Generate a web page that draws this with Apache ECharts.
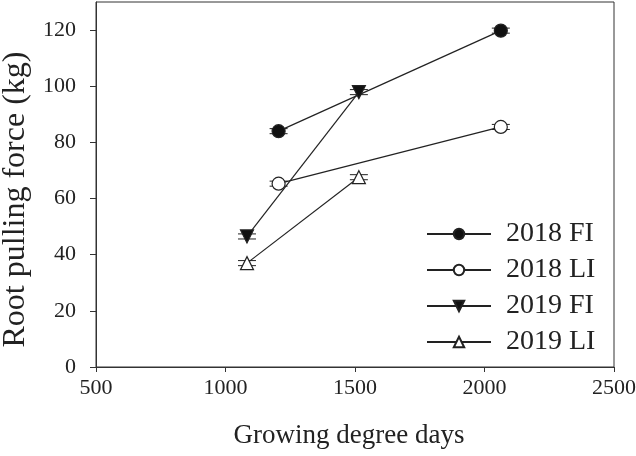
<!DOCTYPE html>
<html><head><meta charset="utf-8">
<script src="https://cdn.jsdelivr.net/npm/echarts@6/dist/echarts.min.js"></script>
<style>html,body{margin:0;padding:0;background:#fff}#c{width:636px;height:456px}</style>
</head><body><div id="c"></div>
<script>
var seriesNames = ['2018 FI', '2018 LI', '2019 FI', '2019 LI'];
var gdd2018FI = [1205, 2063];
var force2018FI = [84, 119.8];
var err2018FI = [0.9, 0.9];
var gdd2018LI = [1205, 2063];
var force2018LI = [65.3, 85.5];
var err2018LI = [0.9, 0.9];
var gdd2019FI = [1083, 1515];
var force2019FI = [46.5, 97.9];
var err2019FI = [0.9, 0.9];
var gdd2019LI = [1083, 1515];
var force2019LI = [37, 67.6];
var err2019LI = [0.9, 0.9];
var xTicks = [500, 1000, 1500, 2000, 2500];
var yTicks = [0, 20, 40, 60, 80, 100, 120];

var gddAll = [gdd2018FI, gdd2018LI, gdd2019FI, gdd2019LI];
var forceAll = [force2018FI, force2018LI, force2019FI, force2019LI];
var errAll = [err2018FI, err2018LI, err2019FI, err2019LI];
var symbols = ['circle', 'circle', 'triangle', 'triangle'];
var fills = ['#111', '#fff', '#111', '#fff'];
var rotates = [0, 0, 180, 0];
var ink = '#222';
var font = '"Liberation Serif", "Times New Roman", serif';

var series = [];
seriesNames.forEach(function (name, i) {
  var pts = gddAll[i].map(function (g, j) { return [g, forceAll[i][j]]; });
  var ebData = gddAll[i].map(function (g, j) { return [g, forceAll[i][j], errAll[i][j]]; });
  series.push({
    type: 'custom', name: name + ' err', z: 1, silent: true,
    data: ebData,
    renderItem: function (params, api) {
      var x = api.value(0), y = api.value(1), e = api.value(2);
      var lo = api.coord([x, y - e]), hi = api.coord([x, y + e]);
      var hw = 9;
      var st = { stroke: ink, lineWidth: 1 };
      return { type: 'group', children: [
        { type: 'line', shape: { x1: lo[0], y1: lo[1], x2: hi[0], y2: hi[1] }, style: st },
        { type: 'line', shape: { x1: lo[0] - hw, y1: lo[1], x2: lo[0] + hw, y2: lo[1] }, style: st },
        { type: 'line', shape: { x1: hi[0] - hw, y1: hi[1], x2: hi[0] + hw, y2: hi[1] }, style: st }
      ]};
    }
  });
  series.push({
    type: 'line', name: name, z: 3, data: pts,
    symbol: symbols[i], symbolSize: 13, symbolRotate: rotates[i],
    showAllSymbol: true,
    lineStyle: { color: ink, width: 1.2 },
    itemStyle: { color: fills[i], borderColor: ink, borderWidth: 1.2 },
    emphasis: { disabled: true },
    animation: false
  });
});

var chart = echarts.init(document.getElementById('c'));
chart.setOption({
  animation: false,
  backgroundColor: '#fff',
  grid: { left: 96, right: 22, top: 2, bottom: 89, outerBoundsMode: 'none', containLabel: false, show: true, borderColor: '#333', borderWidth: 1, backgroundColor: 'transparent' },
  legend: {
    data: seriesNames,
    orient: 'vertical',
    left: 421, top: 215,
    itemWidth: 64, itemHeight: 13, itemGap: 8,
    textStyle: { fontFamily: font, fontSize: 28, lineHeight: 28, color: '#222', padding: [0, 0, 0, 10] },
    inactiveColor: '#222'
  },
  xAxis: {
    type: 'value', min: 500, max: 2500, interval: 500,
    name: 'Growing degree days', nameLocation: 'middle', nameGap: 55,
    nameTextStyle: { fontFamily: font, fontSize: 27, color: '#222', padding: [0, 12, 0, 0] },
    axisLine: { show: true, lineStyle: { color: '#333' } },
    axisTick: { show: true, length: 5, lineStyle: { color: '#333' } },
    axisLabel: { fontFamily: font, fontSize: 22, color: '#222', margin: 10, formatter: function (v) { return String(v); } },
    splitLine: { show: false }
  },
  yAxis: {
    type: 'value', min: 0, max: 130,
    name: 'Root pulling force (kg)', nameLocation: 'middle', nameGap: 64,
    nameTextStyle: { fontFamily: font, fontSize: 32, color: '#222', padding: [0, 30, 0, 0] },
    axisLine: { show: true, lineStyle: { color: '#333' } },
    axisTick: { show: true, length: 6, lineStyle: { color: '#333' }, customValues: yTicks },
    axisLabel: { fontFamily: font, fontSize: 22, color: '#222', margin: 20, customValues: yTicks },
    splitLine: { show: false }
  },
  series: series
});
</script></body></html>
